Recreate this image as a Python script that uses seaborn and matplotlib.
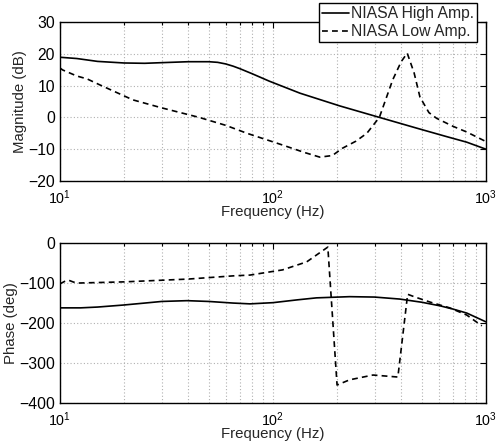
import numpy as np
import pandas as pd
import matplotlib
matplotlib.use("Agg")
import matplotlib.pyplot as plt
import seaborn as sns
from matplotlib.ticker import LogLocator, NullFormatter, FixedLocator

# ---- data ----
f_high_mag = [10, 12, 15, 20, 25, 30, 40, 50, 55, 60, 65, 70, 80, 96, 134, 206, 316, 474, 650, 813, 1000]
mag_high = [18.9, 18.5, 17.6, 17.1, 17.0, 17.2, 17.5, 17.5, 17.3, 16.8, 16.1, 15.3, 13.7, 11.4, 7.6, 3.6, 0.0, -3.4, -6.0, -7.8, -10.0]

f_low_mag = [10, 10.3, 12, 13.4, 15.4, 22, 30, 45, 60, 75.5, 111, 140, 166, 190, 212, 245, 276, 316, 365, 400, 427, 460, 490, 540, 587, 700, 813, 1000]
mag_low = [15.5, 14.9, 13.0, 12.1, 10.2, 5.5, 3.0, 0.0, -2.5, -5.0, -8.7, -11.0, -12.5, -12.0, -9.7, -7.5, -5.0, 0.0, 11.8, 17.5, 20.2, 14.0, 6.4, 1.5, -0.3, -2.8, -4.6, -7.6]

f_high_ph = [10, 12.5, 15, 19.8, 25, 30, 39.5, 50, 65, 78, 100, 130, 160, 229, 300, 394, 500, 610, 700, 813, 1000]
ph_high = [-162, -162, -160, -155, -150, -146, -144, -146, -150, -152, -149, -142, -137, -134, -135, -140, -148, -157, -165, -175, -197]

f_low_ph = [10, 10.5, 11, 11.5, 12, 20, 40, 65, 78, 111, 144, 181, 200, 229, 295, 386, 429, 465, 550, 676, 813, 957]
ph_low = [-102, -96, -93, -97, -100, -97, -90, -82, -80, -67, -47, -10, -355, -342, -330, -335, -128, -135, -148, -162, -180, -207]

series_names = ["NIASA High Amp.", "NIASA Low Amp."]
xtick_vals = [10, 100, 1000]
xtick_labels = [r"$10^{1}$", r"$10^{2}$", r"$10^{3}$"]

mag_df = pd.concat([
    pd.DataFrame({"f": f_high_mag, "v": mag_high, "series": series_names[0]}),
    pd.DataFrame({"f": f_low_mag, "v": mag_low, "series": series_names[1]}),
])
ph_df = pd.concat([
    pd.DataFrame({"f": f_high_ph, "v": ph_high, "series": series_names[0]}),
    pd.DataFrame({"f": f_low_ph, "v": ph_low, "series": series_names[1]}),
])

sns.set_theme(style="white")
plt.rcParams["font.family"] = ["Liberation Sans", "DejaVu Sans"]
plt.rcParams["mathtext.fontset"] = "custom"
plt.rcParams["mathtext.rm"] = "Liberation Sans"
plt.rcParams["mathtext.it"] = "Liberation Sans"

fig = plt.figure(figsize=(4.97, 4.48), dpi=100)
ax1 = fig.add_axes([0.1207, 0.596, 0.857, 0.355])
ax2 = fig.add_axes([0.1207, 0.1004, 0.857, 0.357])

dash_map = {series_names[0]: "", series_names[1]: (3.5, 2.5)}

for ax, df in ((ax1, mag_df), (ax2, ph_df)):
    sns.lineplot(data=df, x="f", y="v", style="series", dashes=dash_map,
                 color="black", linewidth=1.2, ax=ax, sort=False,
                 estimator=None, legend=(ax is ax1))
    ax.set_xscale("log")
    ax.set_xlim(10, 1000)
    ax.xaxis.set_major_locator(FixedLocator(xtick_vals))
    ax.set_xticklabels(xtick_labels)
    ax.xaxis.set_minor_locator(LogLocator(base=10, subs=np.arange(2, 10)))
    ax.xaxis.set_minor_formatter(NullFormatter())
    ax.grid(True, which="major", axis="both", color="#b0b0b0", linestyle=(0, (1, 2)), linewidth=0.8)
    ax.grid(True, which="minor", axis="x", color="#b0b0b0", linestyle=(0, (1, 2)), linewidth=0.8)
    ax.tick_params(which="both", direction="in", top=True, right=True, labelsize=11.3,
                   length=4, width=0.8, colors="black")
    ax.tick_params(which="minor", length=2)
    ax.tick_params(axis="x", pad=5, labelsize=10.3)
    for s in ax.spines.values():
        s.set_color("black")
        s.set_linewidth(1.0)
    ax.set_xlabel("Frequency (Hz)", fontsize=10.8, labelpad=-1)

ax1.set_ylim(-20, 30)
ax1.set_yticks([-20, -10, 0, 10, 20, 30])
ax1.set_yticklabels(["\u221220", "\u221210", "0", "10", "20", "30"])
ax1.set_ylabel("Magnitude (dB)", fontsize=10.8, labelpad=1)

ax2.set_ylim(-400, 0)
ax2.set_yticks([-400, -300, -200, -100, 0])
ax2.set_yticklabels(["\u2212400", "\u2212300", "\u2212200", "\u2212100", "0"])
ax2.set_ylabel("Phase (deg)", fontsize=10.8, labelpad=1)

leg = ax1.legend(loc="upper right", bbox_to_anchor=(477 / 497, 1 - 3 / 448), bbox_transform=fig.transFigure,
                 frameon=True, fancybox=False, framealpha=1, edgecolor="black",
                 fontsize=11.3, handlelength=1.75, handletextpad=0.1, borderpad=0.2,
                 labelspacing=0.2, borderaxespad=0)
leg.get_frame().set_linewidth(1.0)

fig.savefig("out.png", dpi=100)
